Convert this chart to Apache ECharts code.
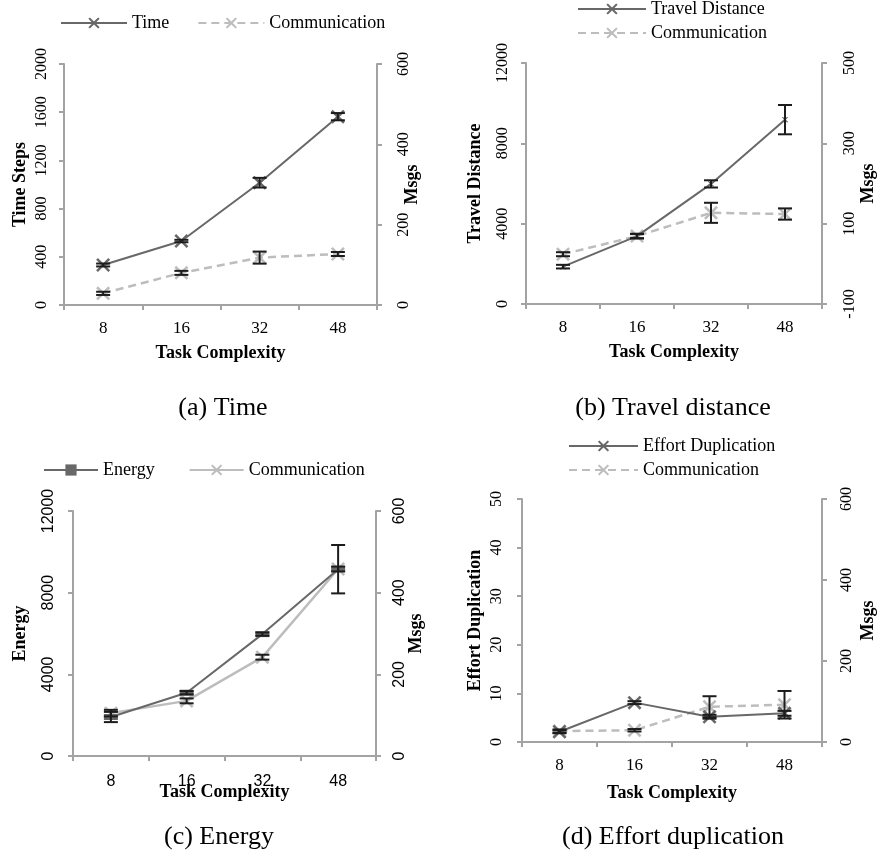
<!DOCTYPE html>
<html>
<head>
<meta charset="utf-8">
<script src="https://cdn.jsdelivr.net/npm/echarts@6/dist/echarts.min.js"></script>
<style>html,body{margin:0;padding:0;background:#fff;}#c{width:878px;height:853px;}</style>
</head>
<body>
<div id="c"></div>
<script>
// ---------- data ----------
const categories = ['8', '16', '32', '48'];

// (a) Time
const timeSteps = [332, 531, 1015, 1563];
const timeStepsErr = [12, 10, 40, 30];
const timeMsgs = [29, 80, 118, 127];
const timeMsgsErr = [4, 5, 15, 5];
const timeStepTicks = [0, 400, 800, 1200, 1600, 2000];
const timeMsgTicks = [0, 200, 400, 600];

// (b) Travel distance
const travelDistance = [1860, 3380, 5980, 9180];
const travelDistanceErr = [90, 120, 180, 730];
const travelMsgs = [24, 69, 127, 124];
const travelMsgsErr = [5, 5, 25, 14];
const travelTicks = [0, 4000, 8000, 12000];
const travelMsgTicks = [-100, 100, 300, 500];

// (c) Energy
const energy = [1910, 3100, 5970, 9150];
const energyErr = [250, 80, 80, 1185];
const energyMsgs = [105, 135, 242, 458];
const energyMsgsErr = [8, 6, 6, 6];
const energyTicks = [0, 4000, 8000, 12000];
const energyMsgTicks = [0, 200, 400, 600];

// (d) Effort duplication
const effortDup = [2.1, 8.1, 5.2, 5.9];
const effortDupErr = [0.3, 0.3, 0.4, 0.5];
const effortMsgs = [27, 29, 87, 92];
const effortMsgsErr = [4, 3, 26, 34];
const effortTicks = [0, 10, 20, 30, 40, 50];
const effortMsgTicks = [0, 200, 400, 600];

// ---------- styling ----------
const SERIF = 'Liberation Serif';
const SANS = 'Liberation Sans';
const AXIS_COLOR = '#a3a3a3';
const MAIN_COLOR = '#686868';
const COMM_COLOR = '#bdbdbd';
const XSYM = 'path://M0,1.3L1.3,0L5,3.7L8.7,0L10,1.3L6.3,5L10,8.7L8.7,10L5,6.3L1.3,10L0,8.7L3.7,5Z';

const chart = echarts.init(document.getElementById('c'), null, {renderer: 'canvas'});

function errRender(params, api) {
  const x = api.value(0);
  const p1 = api.coord([x, api.value(1)]);
  const p2 = api.coord([x, api.value(2)]);
  const hw = 7;
  const st = {stroke: '#1c1c1c', lineWidth: 2};
  return {type: 'group', children: [
    {type: 'line', shape: {x1: p1[0], y1: p1[1], x2: p2[0], y2: p2[1]}, style: st},
    {type: 'line', shape: {x1: p1[0] - hw, y1: p1[1], x2: p1[0] + hw, y2: p1[1]}, style: st},
    {type: 'line', shape: {x1: p2[0] - hw, y1: p2[1], x2: p2[0] + hw, y2: p2[1]}, style: st}
  ]};
}
function errData(vals, errs) {
  return vals.map((v, i) => [i, v - errs[i], v + errs[i]]);
}

const grids = [], xAxes = [], yAxes = [], series = [], legends = [], titles = [];

function addPanel(p) {
  const gi = grids.length;
  grids.push(p.grid);
  const labelFont = p.sansLabels ? SANS : SERIF;
  const lblColor = '#000';
  xAxes.push({
    type: 'category', gridIndex: gi, data: categories, boundaryGap: true,
    axisLine: {lineStyle: {color: AXIS_COLOR, width: 2}},
    axisTick: {show: true, length: 5, lineStyle: {color: AXIS_COLOR, width: 2}},
    axisLabel: {fontFamily: labelFont, fontSize: p.sansLabels ? 16 : 17, color: lblColor, margin: p.xLabelMargin},
    name: 'Task Complexity', nameLocation: 'middle', nameGap: p.xNameGap, nameMoveOverlap: false,
    nameTextStyle: {fontFamily: SERIF, fontWeight: 'bold', fontSize: 18, color: '#000'},
    splitLine: {show: false}
  });
  const mk = (ticks, pos, name, lm, ng) => {
    const ax = {
      type: 'value', gridIndex: gi, position: pos,
      min: ticks[0], max: ticks[ticks.length - 1], interval: ticks[1] - ticks[0],
      axisLine: {show: true, lineStyle: {color: AXIS_COLOR, width: 2}},
      axisTick: {show: true, length: 5, lineStyle: {color: AXIS_COLOR, width: 2}},
      axisLabel: {rotate: 90, fontFamily: labelFont, fontSize: 16, color: lblColor, margin: lm,
                  formatter: v => String(v)},
      splitLine: {show: false},
      name: name, nameLocation: 'middle', nameRotate: 90, nameGap: ng, nameMoveOverlap: false,
      nameTextStyle: {fontFamily: SERIF, fontWeight: 'bold', fontSize: 18, color: '#000'}
    };
    if (ticks[0] % (ticks[1] - ticks[0]) !== 0) {
      ax.axisLabel.customValues = ticks;
      ax.axisTick.customValues = ticks;
    }
    return ax;
  };
  const yl = yAxes.length;
  yAxes.push(mk(p.leftTicks, 'left', p.leftName, p.leftMargin, p.leftGap));
  yAxes.push(mk(p.rightTicks, 'right', 'Msgs', p.rightMargin, p.rightGap));
  const commName = 'Communication#' + gi;
  series.push({
    type: 'line', name: p.mainName, xAxisIndex: gi, yAxisIndex: yl, data: p.main,
    symbol: p.mainSymbol, symbolSize: p.mainSymbolSize, z: 3,
    itemStyle: {color: MAIN_COLOR}, lineStyle: {color: MAIN_COLOR, width: 2}, silent: true
  });
  series.push({
    type: 'line', name: commName, xAxisIndex: gi, yAxisIndex: yl + 1, data: p.comm,
    symbol: XSYM, symbolSize: 14, z: 2,
    itemStyle: {color: COMM_COLOR},
    lineStyle: {color: COMM_COLOR, width: 2.5, type: p.commSolid ? 'solid' : [8, 5]}, silent: true
  });
  series.push({
    type: 'custom', xAxisIndex: gi, yAxisIndex: yl, coordinateSystem: 'cartesian2d',
    data: errData(p.main, p.mainErr), renderItem: errRender, z: 6, silent: true
  });
  series.push({
    type: 'custom', xAxisIndex: gi, yAxisIndex: yl + 1, coordinateSystem: 'cartesian2d',
    data: errData(p.comm, p.commErr), renderItem: errRender, z: 6, silent: true
  });
  legends.push(Object.assign({
    data: [p.mainName, commName], itemHeight: 14,
    formatter: n => n.split('#')[0], selectedMode: false,
    textStyle: {fontFamily: SERIF, fontSize: 18, color: '#000'}
  }, p.legend));
  titles.push({
    text: p.caption, left: p.captionX, top: p.captionY, textAlign: 'center',
    textStyle: {fontFamily: SERIF, fontWeight: 'normal', fontSize: 26, color: '#000'}
  });
}

addPanel({
  grid: {left: 64, top: 64, width: 313, height: 241},
  leftTicks: timeStepTicks, rightTicks: timeMsgTicks,
  leftName: 'Time Steps', leftMargin: 14, leftGap: 35, rightMargin: 19, rightGap: 26,
  xLabelMargin: 15, xNameGap: 39,
  mainName: 'Time', main: timeSteps, mainErr: timeStepsErr, mainSymbol: XSYM, mainSymbolSize: 14,
  comm: timeMsgs, commErr: timeMsgsErr,
  legend: {left: 55, top: 9, itemWidth: 66, itemGap: 28},
  caption: '(a) Time', captionX: 218, captionY: 390
});
addPanel({
  grid: {left: 526, top: 63, width: 301, height: 241},
  leftTicks: travelTicks, rightTicks: travelMsgTicks,
  leftName: 'Travel Distance', leftMargin: 15, leftGap: 42, rightMargin: 20, rightGap: 37,
  xLabelMargin: 15, xNameGap: 39,
  mainName: 'Travel Distance', main: travelDistance, mainErr: travelDistanceErr, mainSymbol: XSYM, mainSymbolSize: 6,
  comm: travelMsgs, commErr: travelMsgsErr,
  legend: {left: 572, top: -5, orient: 'vertical', itemWidth: 68, itemGap: 6},
  caption: '(b) Travel distance', captionX: 668, captionY: 390
});
addPanel({
  grid: {left: 73, top: 511, width: 303, height: 245},
  leftTicks: energyTicks, rightTicks: energyMsgTicks, sansLabels: true,
  leftName: 'Energy', leftMargin: 16, leftGap: 44, rightMargin: 16, rightGap: 31,
  xLabelMargin: 18, xNameGap: 27,
  mainName: 'Energy', main: energy, mainErr: energyErr, mainSymbol: 'rect', mainSymbolSize: [14, 6],
  comm: energyMsgs, commErr: energyMsgsErr, commSolid: true,
  legend: {left: 38, top: 456, itemWidth: 54, itemGap: 34},
  caption: '(c) Energy', captionX: 214, captionY: 819
});
addPanel({
  grid: {left: 522, top: 499, width: 302, height: 243},
  leftTicks: effortTicks, rightTicks: effortMsgTicks,
  leftName: 'Effort Duplication', leftMargin: 17, leftGap: 38, rightMargin: 17, rightGap: 37,
  xLabelMargin: 15, xNameGap: 42,
  mainName: 'Effort Duplication', main: effortDup, mainErr: effortDupErr, mainSymbol: XSYM, mainSymbolSize: 14,
  comm: effortMsgs, commErr: effortMsgsErr,
  legend: {left: 563, top: 432, orient: 'vertical', itemWidth: 69, itemGap: 6},
  caption: '(d) Effort duplication', captionX: 668, captionY: 819
});

chart.setOption({
  animation: false,
  backgroundColor: '#fff',
  title: titles,
  legend: legends,
  grid: grids,
  xAxis: xAxes,
  yAxis: yAxes,
  series: series
});
</script>
</body>
</html>
